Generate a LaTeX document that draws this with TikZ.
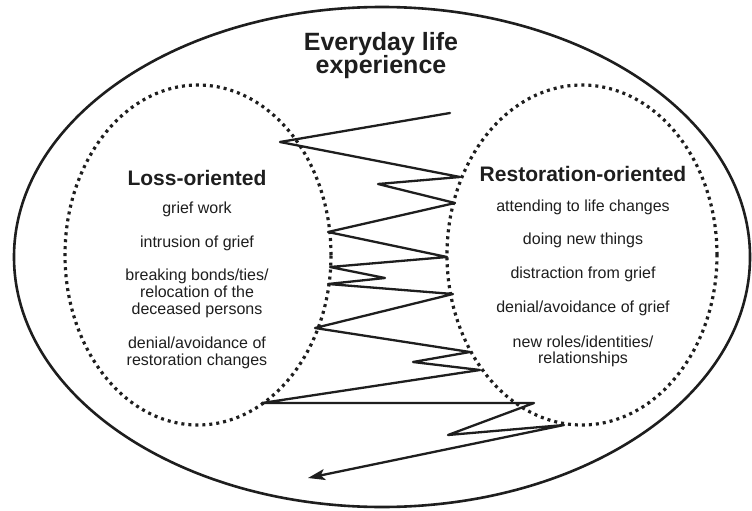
\documentclass[tikz,border=0pt]{standalone}
\usepackage{fontspec}
\setmainfont{Liberation Sans}
\usetikzlibrary{shapes.geometric,arrows.meta}
\definecolor{ink}{HTML}{1E1E1E}
\tikzset{
  outerring/.style={draw=ink, line width=2.6pt, ellipse, inner sep=0pt},
  dotring/.style={draw=ink, line width=3.2pt, dash pattern=on 3pt off 4pt, ellipse, inner sep=0pt},
  zig/.style={draw=ink, line width=2.3pt, line join=round, line cap=round},
  ttl/.style={anchor=base, text=ink, font=\bfseries\fontsize{25}{27}\selectfont, inner sep=0pt},
  hd/.style={anchor=base, text=ink, font=\bfseries\fontsize{21}{23}\selectfont, inner sep=0pt},
  lt/.style={anchor=base, text=ink, font=\fontsize{16}{17}\selectfont, inner sep=0pt}
}
\begin{document}
\begin{tikzpicture}[x=1pt,y=-1pt]
\useasboundingbox (0,0) rectangle (752,511);
\fill[white] (0,0) rectangle (752,511);

% rings
\node[outerring, minimum width=736pt, minimum height=500pt] (outer) at (382,257) {};
\node[dotring, minimum width=266pt, minimum height=340pt] (loss) at (198,255) {};
\node[dotring, minimum width=270pt, minimum height=340pt] (rest) at (582,255) {};

% title
\node[ttl] (t1) at (381,51) {Everyday life};
\node[ttl] (t2) at (381,74) {experience};

% loss-oriented
\node[hd] (lh) at (197,185) {Loss-oriented};
\node[lt] (l1) at (197,213) {grief work};
\node[lt] (l2) at (197,247) {intrusion of grief};
\node[lt] (l3) at (197,280) {breaking bonds/ties/};
\node[lt] (l4) at (197,297) {relocation of the};
\node[lt] (l5) at (197,314) {deceased persons};
\node[lt] (l6) at (197,348) {denial/avoidance of};
\node[lt] (l7) at (197,365) {restoration changes};

% restoration-oriented
\node[hd] (rh) at (583,181) {Restoration-oriented};
\node[lt] (r1) at (583,211) {attending to life changes};
\node[lt] (r2) at (583,244) {doing new things};
\node[lt] (r3) at (583,278) {distraction from grief};
\node[lt] (r4) at (583,312) {denial/avoidance of grief};
\node[lt] (r5) at (583,347) {new roles/identities/};
\node[lt] (r6) at (583,363) {relationships};

% oscillation path
\coordinate (p0) at (450,113);
\coordinate (p1) at (280,142);
\coordinate (p2) at (460,177);
\coordinate (p3) at (378,184);
\coordinate (p4) at (455,203);
\coordinate (p5) at (328,232);
\coordinate (p6) at (447,257);
\coordinate (p7) at (330,267);
\coordinate (p8) at (385,278);
\coordinate (p9) at (328,284);
\coordinate (p10) at (453,294);
\coordinate (p11) at (315,328);
\coordinate (p12) at (470,352);
\coordinate (p13) at (413,362);
\coordinate (p14) at (480,370);
\coordinate (p15) at (262,403);
\coordinate (p16) at (534,403);
\coordinate (p17) at (448,435);
\coordinate (p18) at (564,425);
\coordinate (p19) at (308,478);

\draw[zig, -{Stealth[length=17pt,width=11pt,inset=4pt]}]
  (p0) -- (p1) -- (p2) -- (p3) -- (p4) -- (p5) -- (p6) -- (p7) -- (p8) -- (p9)
  -- (p10) -- (p11) -- (p12) -- (p13) -- (p14) -- (p15) -- (p16) -- (p17) -- (p18) -- (p19);
\end{tikzpicture}
\end{document}
